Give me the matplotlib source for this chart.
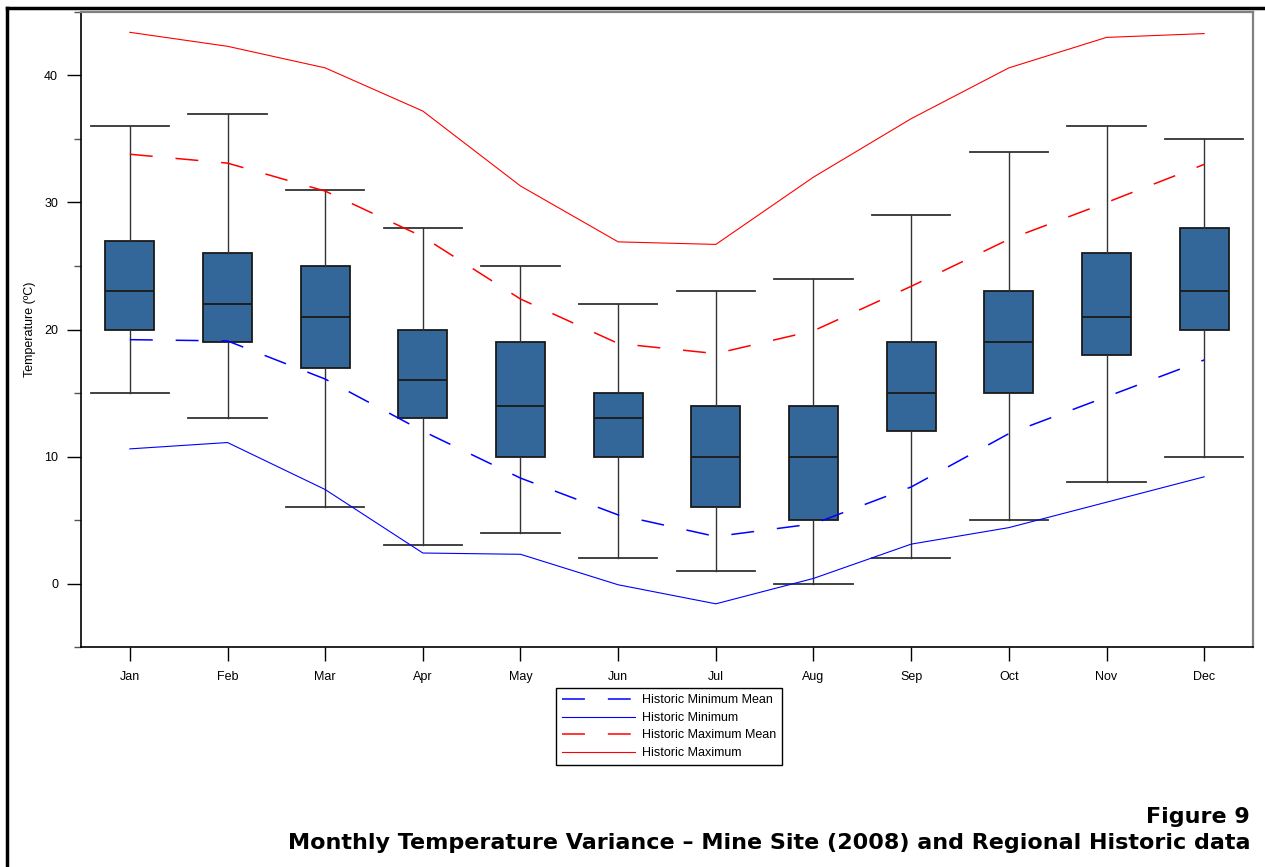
import numpy as np
import matplotlib.pyplot as plt
from matplotlib.lines import Line2D
from matplotlib.ticker import MultipleLocator

plt.rcParams['font.family'] = ['Liberation Sans', 'DejaVu Sans']

# Monthly box data, mine site 2008 (deg C)
months = ['Jan', 'Feb', 'Mar', 'Apr', 'May', 'Jun', 'Jul', 'Aug', 'Sep', 'Oct', 'Nov', 'Dec']
whisker_low = [15, 13, 6, 3, 4, 2, 1, 0, 2, 5, 8, 10]
q1 = [20, 19, 17, 13, 10, 10, 6, 5, 12, 15, 18, 20]
median = [23, 22, 21, 16, 14, 13, 10, 10, 15, 19, 21, 23]
q3 = [27, 26, 25, 20, 19, 15, 14, 14, 19, 23, 26, 28]
whisker_high = [36, 37, 31, 28, 25, 22, 23, 24, 29, 34, 36, 35]

# Regional historic data
hist_min_mean = [19.2, 19.1, 16.1, 12.0, 8.3, 5.4, 3.7, 4.7, 7.6, 11.8, 14.7, 17.6]
hist_min = [10.6, 11.1, 7.4, 2.4, 2.3, -0.1, -1.6, 0.4, 3.1, 4.4, 6.4, 8.4]
hist_max_mean = [33.8, 33.1, 30.9, 27.3, 22.4, 18.9, 18.1, 19.9, 23.4, 27.1, 30.0, 33.0]
hist_max = [43.4, 42.3, 40.6, 37.2, 31.3, 26.9, 26.7, 32.0, 36.6, 40.6, 43.0, 43.3]

fig = plt.figure(figsize=(12.65, 8.67), dpi=100)
ax = fig.add_axes([81 / 1265, 1 - 647 / 867, (1253 - 81) / 1265, (647 - 12) / 867])

x = np.arange(1, len(months) + 1)
stats = []
for i in range(len(months)):
    stats.append(dict(med=median[i], q1=q1[i], q3=q3[i],
                      whislo=whisker_low[i], whishi=whisker_high[i], fliers=[]))

ax.bxp(stats, positions=x, widths=0.5, capwidths=0.8, patch_artist=True,
       showfliers=False,
       boxprops=dict(facecolor='#336699', edgecolor='#1a1a1a', linewidth=1.3),
       medianprops=dict(color='#1a1a1a', linewidth=1.3),
       whiskerprops=dict(color='#333333', linewidth=1.0),
       capprops=dict(color='#333333', linewidth=1.3))

ax.plot(x, hist_min_mean, color='blue', lw=1.1, dashes=(15, 15), label='Historic Minimum Mean')
ax.plot(x, hist_min, color='blue', lw=0.8, label='Historic Minimum')
ax.plot(x, hist_max_mean, color='red', lw=1.1, dashes=(15, 15), label='Historic Maximum Mean')
ax.plot(x, hist_max, color='red', lw=0.8, label='Historic Maximum')

ax.set_xlim(0.5, 12.5)
ax.set_ylim(-5, 45)
ax.set_xticks(x)
ax.set_xticklabels(months)
ax.yaxis.set_major_locator(MultipleLocator(10))
ax.yaxis.set_minor_locator(MultipleLocator(5))
ax.tick_params(axis='both', which='major', length=10, width=1.0, labelsize=9, direction='out')
ax.tick_params(axis='x', pad=7)
ax.tick_params(axis='y', pad=6.5)
ax.tick_params(axis='y', which='minor', length=5, width=1.0, color='#555555')

for side in ['left', 'bottom']:
    ax.spines[side].set_color('black')
    ax.spines[side].set_linewidth(1.2)
for side in ['top', 'right']:
    ax.spines[side].set_color('#808080')
    ax.spines[side].set_linewidth(1.6)

fig.text(30 / 1265, 0.62, 'Temperature (ºC)', rotation=90, ha='center', va='center', fontsize=9)

fig.legend(loc='upper center', bbox_to_anchor=(669 / 1265, 1 - 688 / 867),
           fontsize=9, handlelength=5.8, labelspacing=0.45, handletextpad=0.55,
           borderaxespad=0, borderpad=0.5, fancybox=False, framealpha=1,
           edgecolor='black')

fig.text(1250 / 1265, 1 - 817 / 867, 'Figure 9', ha='right', va='center',
         fontsize=16, fontweight='bold', family='DejaVu Sans')
fig.text(1250 / 1265, 1 - 843 / 867,
         'Monthly Temperature Variance \u2013 Mine Site (2008) and Regional Historic data',
         ha='right', va='center', fontsize=16, fontweight='bold', family='DejaVu Sans')

# page border (left and top edges visible)
fig.add_artist(Line2D([7 / 1265, 7 / 1265], [0, 1 - 8 / 867], color='black', lw=2.5))
fig.add_artist(Line2D([7 / 1265, 1], [1 - 8 / 867, 1 - 8 / 867], color='black', lw=2.5))

fig.savefig('out.png', dpi=100)
